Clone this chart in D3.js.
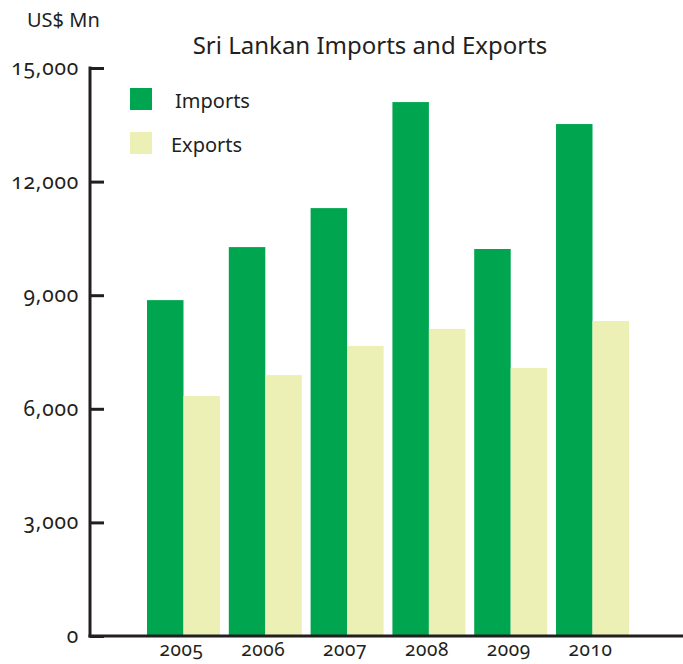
<!DOCTYPE html>
<html>
<head>
<meta charset="UTF-8">
<title>Sri Lankan Imports and Exports</title>
<script src="https://cdn.jsdelivr.net/npm/d3@7"></script>
<style>
  body { margin: 0; background: #fff; }
  text { font-family: "Noto Sans", "Open Sans", sans-serif; fill: #231f20; font-variant-numeric: oldstyle-nums; }
</style>
</head>
<body>
<div id="chart"></div>
<script>
// values in US$ Mn
const years = ["2005", "2006", "2007", "2008", "2009", "2010"];
const imports = [8870, 10270, 11300, 14100, 10220, 13520];
const exports = [6340, 6890, 7660, 8110, 7080, 8320];
const yTicks = [0, 3000, 6000, 9000, 12000, 15000];
const seriesNames = ["Imports", "Exports"];
const colors = ["#00a54f", "#ecf0b4"];

const width = 683, height = 664;
const svg = d3.select("#chart").append("svg")
    .attr("width", width)
    .attr("height", height);

const y = d3.scaleLinear().domain([0, 15000]).range([636, 68]);
const x = d3.scaleBand().domain(years).range([147, 629]).paddingInner(0.108).paddingOuter(0);
const xs = d3.scaleBand().domain(seriesNames).range([0, x.bandwidth()]);

// bars
years.forEach((yr, i) => {
    const vals = [imports[i], exports[i]];
    svg.append("g")
        .attr("transform", "translate(" + x(yr) + ",0)")
        .selectAll("rect")
        .data(vals)
        .join("rect")
        .attr("x", (d, j) => xs(seriesNames[j]))
        .attr("width", xs.bandwidth())
        .attr("y", d => y(d))
        .attr("height", d => y(0) - y(d))
        .attr("fill", (d, j) => colors[j]);
});

// y axis
const yAxis = d3.axisRight(y).tickValues(yTicks).tickSize(14).tickFormat("");
const gy = svg.append("g").attr("transform", "translate(90,0)").call(yAxis);
gy.select(".domain").remove();
gy.selectAll(".tick line").attr("stroke", "#231f20").attr("stroke-width", 3);
svg.append("line")
    .attr("x1", 90).attr("x2", 90)
    .attr("y1", y(15000) - 1.5).attr("y2", y(0) + 1.5)
    .attr("stroke", "#231f20").attr("stroke-width", 3);

svg.selectAll(".ylab")
    .data(yTicks)
    .join("text")
    .attr("class", "ylab")
    .attr("x", 79)
    .attr("y", d => y(d) + 7)
    .attr("text-anchor", "end")
    .attr("font-size", 21)
    .attr("letter-spacing", 0.8)
    .text(d3.format(","));

// x axis
svg.append("line")
    .attr("x1", 88.5).attr("x2", width)
    .attr("y1", y(0)).attr("y2", y(0))
    .attr("stroke", "#231f20").attr("stroke-width", 3);

svg.selectAll(".xlab")
    .data(years)
    .join("text")
    .attr("class", "xlab")
    .attr("x", d => x(d) + x.bandwidth() / 2 - 2)
    .attr("y", 656)
    .attr("text-anchor", "middle")
    .attr("font-size", 19)
    .attr("letter-spacing", 0.6)
    .text(d => d);

// titles
svg.append("text")
    .attr("x", 27).attr("y", 27)
    .attr("font-size", 20)
    .text("US$ Mn");

svg.append("text")
    .attr("x", 370).attr("y", 54)
    .attr("text-anchor", "middle")
    .attr("font-size", 24)
    .text("Sri Lankan Imports and Exports");

// legend
const legend = svg.selectAll(".legend")
    .data(seriesNames)
    .join("g")
    .attr("class", "legend")
    .attr("transform", (d, i) => "translate(130," + (88 + i * 44) + ")");
legend.append("rect")
    .attr("width", 22).attr("height", 22)
    .attr("fill", (d, i) => colors[i]);
legend.append("text")
    .attr("x", (d, i) => i === 0 ? 45 : 41)
    .attr("y", 20)
    .attr("font-size", 20)
    .text(d => d);
</script>
</body>
</html>
